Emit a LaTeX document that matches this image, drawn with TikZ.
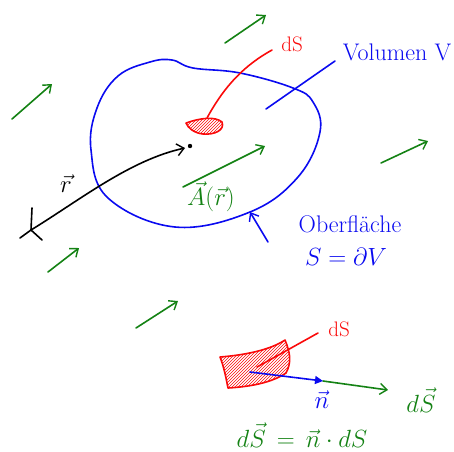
\documentclass[tikz,border=0pt]{standalone}
\usetikzlibrary{arrows.meta,patterns}
\definecolor{pgreen}{RGB}{20,130,20}
\definecolor{pblue}{RGB}{10,10,240}
\definecolor{pred}{RGB}{250,10,10}
\begin{document}
\begin{tikzpicture}[x=1pt,y=-1pt,line cap=round,line join=round,
  pen/.style={line width=1.6pt},
  garrow/.style={pen,draw=pgreen,-{Straight Barb[length=7pt,width=11pt,line width=1.4pt]}},
  lbl/.style={inner sep=0pt,font=\fontsize{24}{26}\selectfont},
  slbl/.style={inner sep=0pt,font=\fontsize{21}{23}\selectfont}]
\useasboundingbox (0,0) rectangle (454,451);
% volume blob
\draw[pen,pblue] plot[smooth cycle,tension=0.65] coordinates {(150,62) (118,76) (97,108) (91,150) (108,198) (175,227) (250,212) (298,177) (320,132) (313,102) (293,88) (240,73) (193,68) (172,60)};
\draw[pen,pblue] (335,61) -- (266,109);
\node[lbl,text=pblue] (vol) at (397,52) {Volumen V};
% dS top
\node[slbl,text=pred] (ds1) at (292,44) {dS};
\coordinate (ds1e) at (272,50);
\draw[pen,pred] (ds1e) .. controls (245,65) and (225,85) .. (207,118);
\draw[pen,pred,pattern=north east lines,pattern color=pred] (186,123) .. controls (200,118) and (215,116) .. (222,122) .. controls (225,130) and (215,135) .. (203,134) .. controls (194,133) and (188,128) .. (186,123);
% position vector
\fill (190,146) coordinate (P) circle (2.2pt);
\coordinate (O) at (31,230);
\draw[pen] (32,208) -- (O) -- (20,238) (O) -- (42,240);
\draw[pen,-{Straight Barb[length=7pt,width=12pt,line width=1.4pt]}] (O) .. controls (80,200) and (130,160) .. (185,148);
\node[lbl] (r) at (66,184) {$\vec{r}$};
% field vector
\draw[garrow] (183,187) -- (265,146);
\node[lbl,text=pgreen] (A) at (211,197) {$\vec{A}(\vec{r})$};
% surface label
\node[lbl,text=pblue] (ob) at (350,224) {Oberfläche};
\node[lbl,text=pblue] (sv) at (346,257) {$S=\partial V$};
\draw[pen,pblue,-{Straight Barb[length=7pt,width=11pt,line width=1.4pt]}] (268,242) -- (250,212);
% scattered field arrows
\draw[garrow] (12,119) -- (52,84);
\draw[garrow] (225,43) -- (266,15);
\draw[garrow] (381,163) -- (428,141);
\draw[garrow] (48,272) -- (79,248);
\draw[garrow] (136,328) -- (178,301);
% bottom: surface element
\draw[pen,pred,pattern=north east lines,pattern color=pred] (220,357) .. controls (245,355) and (270,350) .. (285,340) .. controls (290,352) and (292,362) .. (286,373) .. controls (270,384) and (245,387) .. (228,388) .. controls (226,378) and (224,367) .. (220,357);
\node[slbl,text=pred] (ds2) at (339,329) {dS};
\coordinate (ds2e) at (318,333);
\draw[pen,pred] (ds2e) -- (257,367);
\coordinate (base) at (250,372);
\coordinate (ntip) at (323,381);
\draw[pen,pgreen,-{Straight Barb[length=7pt,width=11pt,line width=1.4pt]}] (ntip) -- (388,390);
\draw[pen,pblue,-{Triangle[length=8pt,width=8pt]}] (base) -- (ntip);
\node[lbl,text=pblue] (n) at (322,400) {$\vec{n}$};
\node[lbl,text=pgreen] (dSv) at (421,400) {$d\vec{S}$};
\node[lbl,text=pgreen] (eq) at (302,435) {$d\vec{S}\,=\,\vec{n}\cdot dS$};
\end{tikzpicture}
\end{document}
